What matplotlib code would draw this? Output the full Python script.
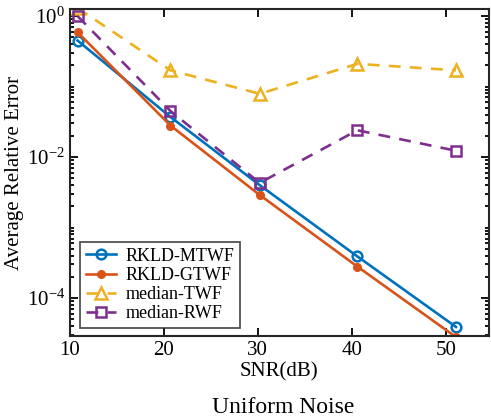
import numpy as np
import matplotlib
matplotlib.use('Agg')
import matplotlib.pyplot as plt
from matplotlib.ticker import LogLocator, NullFormatter, FixedLocator

plt.rcParams['font.family'] = ['Liberation Serif', 'DejaVu Serif']
plt.rcParams['mathtext.fontset'] = 'custom'
plt.rcParams['mathtext.rm'] = 'Liberation Serif'
plt.rcParams['mathtext.it'] = 'Liberation Serif:italic'

# SNR positions (dB) and errors
snr = [10.8, 20.7, 30.2, 40.6, 51.1]
rkld_mtwf = [0.45, 0.037, 4.0e-3, 3.9e-4, 3.9e-5]
rkld_gtwf = [0.59, 0.028, 2.9e-3, 2.8e-4, 2.8e-5]
median_twf = [1.3, 0.17, 0.079, 0.21, 0.17]
median_rwf = [1.0, 0.045, 4.3e-3, 0.024, 0.0123]

xticks = [10, 20, 30, 40, 50]
yticks = [1e-4, 1e-2, 1e0]
yticklabels = [r'$10^{-4}$', r'$10^{-2}$', r'$10^{0}$']

fig = plt.figure(figsize=(4.91, 4.20), dpi=100)
ax = fig.add_axes([0.1426, 0.2, 0.853, 0.7786])

lw = 1.9
ax.semilogy(snr, rkld_mtwf, '-o', color='#0072BD', lw=lw, ms=7, mfc='none', mew=1.8, label='RKLD-MTWF')
ax.semilogy(snr, rkld_gtwf, '-o', color='#D95319', lw=lw, ms=5.5, label='RKLD-GTWF')
ax.semilogy(snr, median_twf, '--^', color='#EDB120', lw=lw, ms=8, mfc='none', mew=1.8, dashes=(4.5, 3.5), label='median-TWF')
ax.semilogy(snr, median_rwf, '--s', color='#7E2F8E', lw=lw, ms=6.5, mfc='none', mew=1.8, dashes=(4.5, 3.5), label='median-RWF')

ax.set_xlim(10, 54.6)
ax.set_ylim(2.9e-5, 1.26)
ax.set_xticks(xticks)
ax.yaxis.set_major_locator(FixedLocator(yticks))
ax.set_yticklabels(yticklabels)
ax.yaxis.set_minor_locator(LogLocator(base=10, subs=np.arange(1, 10), numticks=20))
ax.yaxis.set_minor_formatter(NullFormatter())
ax.tick_params(which='both', direction='in', top=True, right=True, labelsize=15, width=1.3)
ax.tick_params(which='major', length=6)
ax.tick_params(which='minor', length=3)
for s in ax.spines.values():
    s.set_linewidth(1.5)
    s.set_color('#262626')

ax.set_xlabel('SNR(dB)', fontsize=15, labelpad=2)
ax.set_ylabel('Average Relative Error', fontsize=15, labelpad=2)

leg = ax.legend(loc='lower left', bbox_to_anchor=(0.02, 0.02), fontsize=13, frameon=True, fancybox=False,
                edgecolor='#262626', handlelength=1.7, borderpad=0.3, labelspacing=0.12, handletextpad=0.5, borderaxespad=0.1)
leg.get_frame().set_linewidth(1.3)

fig.text(0.577, 0.03, 'Uniform Noise', ha='center', va='center', fontsize=17)

fig.savefig('out.png', dpi=100)
